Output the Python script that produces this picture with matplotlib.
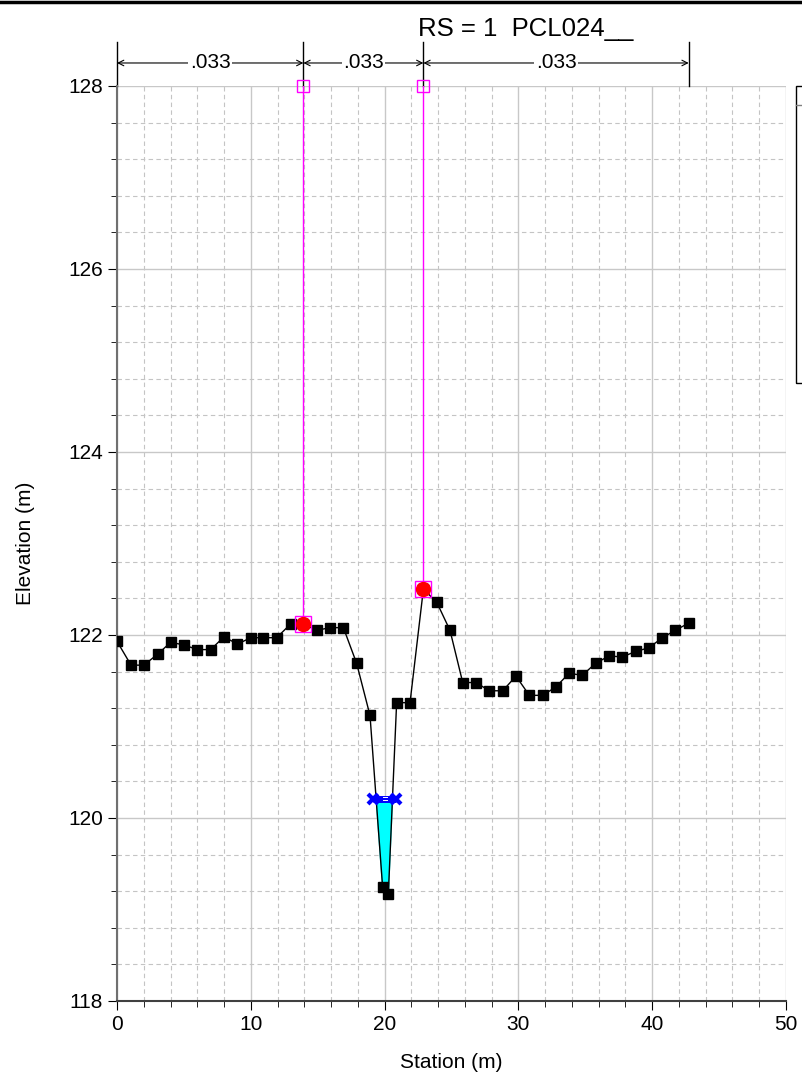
import matplotlib.pyplot as plt
from matplotlib.ticker import MultipleLocator
from matplotlib.patches import Rectangle
from matplotlib.lines import Line2D

plt.rcParams['font.family'] = ['Liberation Sans', 'DejaVu Sans']

# ground points (station m, elevation m)
station = [0.0, 1.05, 2.0, 3.04, 4.01, 5.03, 6.0, 7.0, 8.0, 9.0, 10.0, 10.94, 11.93,
           12.98, 13.93, 14.92, 15.92, 16.92, 17.91, 18.91, 19.85, 20.28, 20.9, 21.9,
           22.9, 23.89, 24.89, 25.84, 26.83, 27.83, 28.83, 29.82, 30.82, 31.81, 32.79,
           33.78, 34.78, 35.77, 36.77, 37.77, 38.77, 39.76, 40.76, 41.73, 42.73]
elev = [121.93, 121.67, 121.67, 121.79, 121.92, 121.89, 121.84, 121.84, 121.98, 121.90,
        121.97, 121.97, 121.97, 122.12, 122.12, 122.05, 122.08, 122.08, 121.69, 121.12,
        119.25, 119.17, 121.26, 121.26, 122.50, 122.36, 122.05, 121.48, 121.48, 121.39,
        121.39, 121.55, 121.34, 121.34, 121.43, 121.58, 121.56, 121.69, 121.77, 121.76,
        121.82, 121.86, 121.97, 122.05, 122.13]

bank_sta = [13.93, 22.9]
bank_elev = [122.12, 122.50]
ws_elev = 120.21
ws_left, ws_right = 19.37, 20.59
ws_sym = [19.15, 20.85]
n_breaks = [0.0, 13.93, 22.9, 42.73]
n_values = [".033", ".033", ".033"]
title = "RS = 1  PCL024__"

fig = plt.figure(figsize=(8.02, 10.88), dpi=100)
ax = fig.add_axes([0.1459, 0.0800, 0.8341, 0.8410])

# water fill in the channel
fx = [ws_left, 19.85, 20.28, ws_right]
fy = [ws_elev, 119.25, 119.17, ws_elev]
ax.fill(fx, fy, color="#00ffff", zorder=2)

# bank station lines
for s, e in zip(bank_sta, bank_elev):
    ax.plot([s, s], [e, 128], color="#ff00ff", lw=1, zorder=3)
    ax.plot([s], [128], marker="s", ms=9, mfc="none", mec="#ff00ff", mew=1,
            clip_on=False, zorder=5)
    ax.plot([s], [e], marker="s", ms=11, mfc="none", mec="#ff00ff", mew=1, zorder=5)

# ground
ax.plot(station, elev, color="black", lw=1, marker="s", ms=7, zorder=4)
ax.plot(bank_sta, bank_elev, "o", color="red", ms=10, zorder=6)

# water surface symbol
ax.plot(ws_sym, [ws_elev, ws_elev], color="blue", lw=5, zorder=6, solid_capstyle="butt")
ax.plot(ws_sym, [ws_elev, ws_elev], ls="none", marker="x", color="blue", ms=7, mew=3, zorder=6)
ax.plot([19.85, 20.15], [ws_elev + 0.015, ws_elev + 0.015], color="white", lw=0.7, zorder=7)
ax.plot([19.85, 20.15], [ws_elev - 0.015, ws_elev - 0.015], color="white", lw=0.7, zorder=7)

ax.set_xlim(0, 50)
ax.set_ylim(118, 128)
ax.xaxis.set_major_locator(MultipleLocator(10))
ax.xaxis.set_minor_locator(MultipleLocator(2))
ax.yaxis.set_major_locator(MultipleLocator(2))
ax.yaxis.set_minor_locator(MultipleLocator(0.4))
ax.grid(which="major", color="#c8c8c8", lw=1, ls="-")
ax.grid(which="minor", color="#c4c4c4", lw=0.8, ls=(0, (4, 3)))
ax.set_axisbelow(True)
ax.tick_params(which="both", direction="out", labelsize=15, color="black")
ax.tick_params(which="major", length=6.5)
ax.tick_params(which="minor", length=4)
for sp in ["top", "right"]:
    ax.spines[sp].set_visible(False)
ax.spines["left"].set_color("#707070")
ax.spines["left"].set_linewidth(1.5)
ax.spines["bottom"].set_color("#404040")
ax.spines["bottom"].set_linewidth(1.5)
ax.set_xlabel("Station (m)", fontsize=15, labelpad=14)
ax.set_ylabel("Elevation (m)", fontsize=15, labelpad=24)

# Manning's n markers above the plot
tr = ax.get_xaxis_transform()
for s in n_breaks:
    ax.plot([s, s], [1.0, 1.048], transform=tr, color="black", lw=1, clip_on=False)
for i, n in enumerate(n_values):
    a, b = n_breaks[i], n_breaks[i + 1]
    ax.annotate("", xy=(a, 1.0251), xytext=(b, 1.0251), xycoords=tr, textcoords=tr,
                arrowprops=dict(arrowstyle="<->", lw=0.8, color="black",
                                shrinkA=0, shrinkB=0))
    ax.text((a + b) / 2, 1.0251, n, transform=tr, ha="center", va="center", fontsize=15,
            bbox=dict(fc="white", ec="none", pad=1))

fig.text(0.655, 0.973, title, ha="center", va="center", fontsize=18.5)

# top border line and clipped legend box
fig.add_artist(Line2D([0, 1], [0.9985, 0.9985], color="black", lw=2.5))
fig.patches.append(Rectangle((796 / 802, 1 - 383 / 1088), 0.05, (383 - 86) / 1088,
                             transform=fig.transFigure, fill=False, ec="black", lw=1))
fig.add_artist(Line2D([796 / 802, 1], [1 - 105 / 1088, 1 - 105 / 1088], color="gray", lw=1))

fig.savefig("out.png", dpi=100)
